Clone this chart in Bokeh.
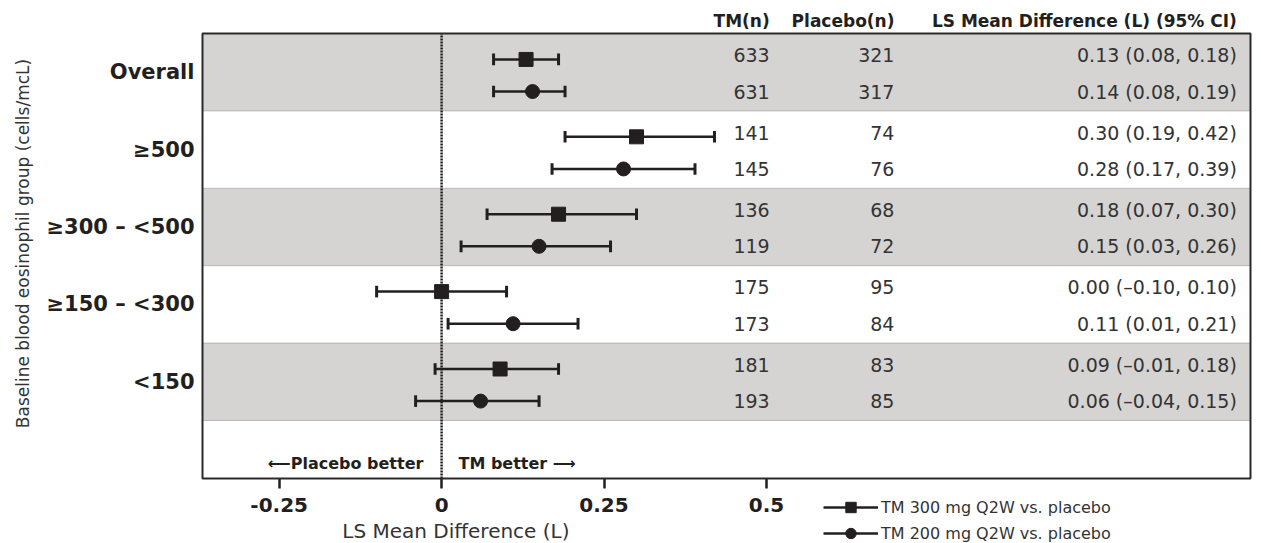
import math
from bokeh.plotting import figure
from bokeh.models import Range1d, ColumnDataSource, Legend, LegendItem, FixedTicker, BoxAnnotation
from bokeh.embed import file_html
from bokeh.resources import INLINE
from bokeh.core.properties import value

# ---------------- data ----------------
groups = ["Overall", "\u2265500", "\u2265300 \u2013 <500", "\u2265150 \u2013 <300", "<150"]
tm300_est = [0.13, 0.30, 0.18, 0.00, 0.09]
tm300_lo = [0.08, 0.19, 0.07, -0.10, -0.01]
tm300_hi = [0.18, 0.42, 0.30, 0.10, 0.18]
tm200_est = [0.14, 0.28, 0.15, 0.11, 0.06]
tm200_lo = [0.08, 0.17, 0.03, 0.01, -0.04]
tm200_hi = [0.19, 0.39, 0.26, 0.21, 0.15]
tm300_n = [633, 141, 136, 175, 181]
tm200_n = [631, 145, 119, 173, 193]
pbo300_n = [321, 74, 68, 95, 83]
pbo200_n = [317, 76, 72, 84, 85]
x_ticks = [-0.25, 0, 0.25, 0.5]
tick_labels = ["-0.25", "0", "0.25", "0.5"]
headers = ["TM(n)", "Placebo(n)", "LS Mean Difference (L) (95% CI)"]
series_names = ["TM 300 mg Q2W vs. placebo", "TM 200 mg Q2W vs. placebo"]
x_title = "LS Mean Difference (L)"
y_title = "Baseline blood eosinophil group (cells/mcL)"
arrow_left = "\u27f5Placebo better"
arrow_right = "TM better \u27f6"

# ---------------- layout constants ----------------
W, H = 1261, 543
FONT = "DejaVu Sans"
INK = "#231f20"
TXT = "#333333"
BAND = "#d5d4d2"
# plot box in pixels (left, top, right, bottom) and in data units
PL, PT, PR, PB = 202, 33, 1250, 478
BX0, BX1 = -0.368, 1.245
BOTTOM_AREA = 1.5
BY0, BY1 = 0.0, BOTTOM_AREA + 2 * len(groups)
SX = (PR - PL) / (BX1 - BX0)
SY = (PB - PT) / (BY1 - BY0)
COL_X = [0.505, 0.697, 1.224]

def fmt(v):
    return f"{v:.2f}".replace("-", "\u2013")

tops = [BY1 - 2 * i for i in range(len(groups))]
y300 = [t - 0.67 for t in tops]
y200 = [t - 1.5 for t in tops]
ty300 = [t - 0.56 for t in tops]
ty200 = [t - 1.5 for t in tops]

p = figure(width=W, height=H,
           x_range=Range1d(BX0 - PL / SX, BX1 + (W - PR) / SX),
           y_range=Range1d(BY0 - (H - PB) / SY, BY1 + PT / SY),
           output_backend="svg", toolbar_location=None,
           min_border=0, min_border_left=0, min_border_right=0, min_border_top=0, min_border_bottom=0)
p.grid.visible = False
p.yaxis.visible = False
p.outline_line_color = None
p.background_fill_color = "white"
p.border_fill_color = "white"

# shaded bands
shade_idx = [i for i in range(len(groups)) if i % 2 == 0]
p.quad(left=BX0, right=BX1, top=[tops[i] for i in shade_idx], bottom=[tops[i] - 2 for i in shade_idx],
       fill_color=BAND, line_color=None)

# separators
seps = tops[1:] + [BOTTOM_AREA]
p.segment(x0=BX0, x1=BX1, y0=seps, y1=seps, line_color="#8c8c8c", line_width=1, line_dash="1 1")
# zero reference line
p.segment(x0=[0], x1=[0], y0=[BY0], y1=[BY1], line_color=INK, line_width=2.5, line_dash="2 1")

CAP = 0.15
def draw_series(est, lo, hi, ys, marker):
    src = ColumnDataSource(dict(est=est, lo=lo, hi=hi, y=ys,
                                yb=[v - CAP for v in ys], yt=[v + CAP for v in ys]))
    seg = p.segment(x0="lo", x1="hi", y0="y", y1="y", source=src, line_color=INK, line_width=2.5)
    p.segment(x0="lo", x1="lo", y0="yb", y1="yt", source=src, line_color=INK, line_width=3)
    p.segment(x0="hi", x1="hi", y0="yb", y1="yt", source=src, line_color=INK, line_width=3)
    sc = p.scatter(x="est", y="y", source=src, marker=marker, size=14,
                   fill_color=INK, line_color=INK)
    return seg, sc

seg3, sc3 = draw_series(tm300_est, tm300_lo, tm300_hi, y300, "square")
seg2, sc2 = draw_series(tm200_est, tm200_lo, tm200_hi, y200, "circle")

# table texts
def table(ns_tm, ns_pbo, est, lo, hi, ys):
    ci = [f"{fmt(e)} ({fmt(a)}, {fmt(b)})" for e, a, b in zip(est, lo, hi)]
    cols = [[str(n) for n in ns_tm], [str(n) for n in ns_pbo], ci]
    for cx, texts in zip(COL_X, cols):
        p.text(x=cx, y=ys, text=texts, text_align="right", text_baseline="middle",
               text_font=value(FONT), text_font_size="19px", text_color=TXT)

table(tm300_n, pbo300_n, tm300_est, tm300_lo, tm300_hi, ty300)
table(tm200_n, pbo200_n, tm200_est, tm200_lo, tm200_hi, ty200)

# headers (above the box)
p.text(x=COL_X, y=[BY1 + 13 / SY] * len(headers), text=headers, text_align="right",
       text_baseline="middle", text_font=value(FONT), text_font_style="bold",
       text_font_size="17px", text_color=INK)

# group labels (left of the box)
p.text(x=[BX0 - 8 / SX] * len(groups), y=[t - 1 for t in tops], text=groups, text_align="right",
       text_baseline="middle", text_font=value(FONT), text_font_style="bold",
       text_font_size="21px", text_color=INK)

# direction hints
p.text(x=[-0.028], y=[0.39], text=[arrow_left], text_align="right", text_baseline="middle",
       text_font=value(FONT), text_font_style="bold", text_font_size="16px", text_color=INK)
p.text(x=[0.026], y=[0.39], text=[arrow_right], text_align="left", text_baseline="middle",
       text_font=value(FONT), text_font_style="bold", text_font_size="16px", text_color=INK)

# plot box
p.add_layout(BoxAnnotation(left=BX0, right=BX1, bottom=BY0, top=BY1, fill_alpha=0,
                           line_color="#2a2a2a", line_alpha=1, line_width=2))

# x axis pinned to the bottom of the box
ax = p.xaxis[0]
ax.fixed_location = BY0
ax.ticker = FixedTicker(ticks=x_ticks)
ax.major_label_overrides = dict(zip(x_ticks, tick_labels))
ax.axis_line_color = None
ax.major_tick_out = 10
ax.major_tick_in = 0
ax.major_tick_line_width = 2.5
ax.major_tick_line_color = INK
ax.minor_tick_line_color = None
ax.major_label_standoff = 9
ax.major_label_text_font = FONT
ax.major_label_text_font_style = "bold"
ax.major_label_text_font_size = "20px"
ax.major_label_text_color = INK

# axis titles
p.text(x=[0.022], y=[BY0 - 52 / SY], text=[x_title], text_align="center", text_baseline="middle",
       text_font=value(FONT), text_font_size="20px", text_color=TXT)
p.text(x=[BX0 - (PL - 22) / SX], y=[BY0 + (PB - 243) / SY], text=[y_title], angle=math.pi / 2,
       text_align="center", text_baseline="middle",
       text_font=value(FONT), text_font_size="17px", text_color=TXT)

# legend
legend = Legend(items=[LegendItem(label=series_names[0], renderers=[seg3, sc3]),
                       LegendItem(label=series_names[1], renderers=[seg2, sc2])],
                location=(823, -3), orientation="vertical", glyph_width=55, glyph_height=26,
                spacing=-1, label_standoff=3, padding=0, margin=0,
                border_line_alpha=0, background_fill_alpha=0,
                label_text_font=FONT, label_text_font_size="16px", label_text_color=TXT)
p.add_layout(legend)

open("out.html", "w").write(file_html(p, INLINE))
